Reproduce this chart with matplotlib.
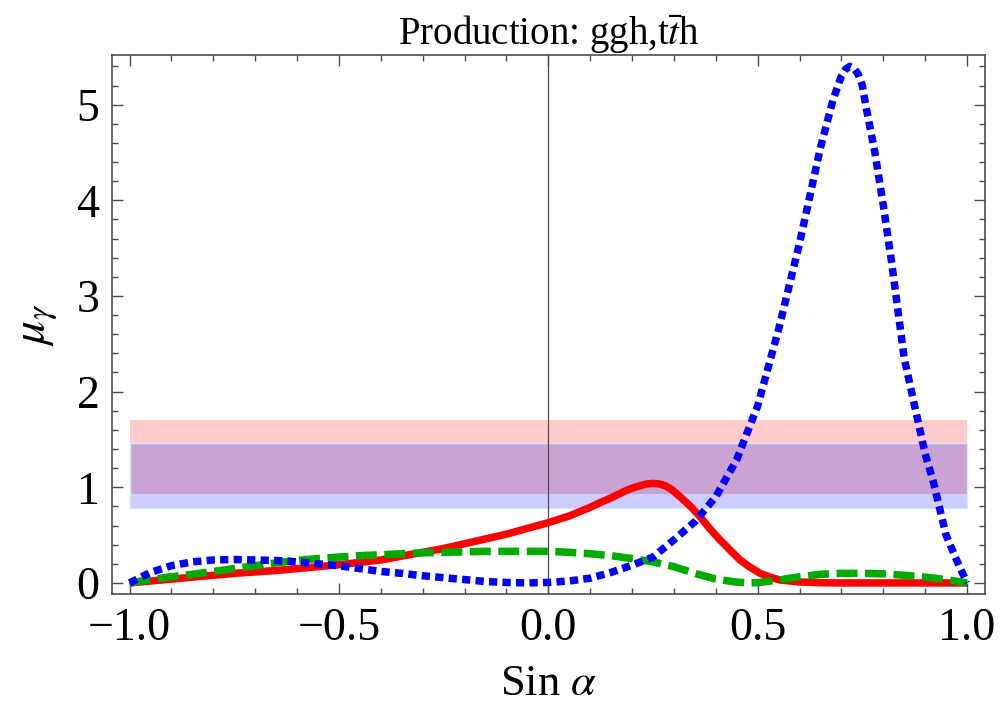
import numpy as np
import matplotlib
matplotlib.use("Agg")
import matplotlib.pyplot as plt
from matplotlib.ticker import MultipleLocator, FixedLocator

plt.rcParams['font.family'] = ['Liberation Serif', 'DejaVu Serif']
plt.rcParams['mathtext.fontset'] = 'stix'
plt.rcParams['axes.unicode_minus'] = True

# ---- data ----
red_x = [-1.0, -0.95, -0.9, -0.85, -0.8, -0.75, -0.7, -0.65, -0.6, -0.55, -0.5, -0.45, -0.4,
         -0.35, -0.3, -0.25, -0.2, -0.15, -0.1, -0.05, 0.0, 0.05, 0.1, 0.124, 0.15, 0.188, 0.21,
         0.235, 0.25, 0.265, 0.28, 0.295, 0.315, 0.34, 0.363, 0.385, 0.41, 0.435, 0.458, 0.48,
         0.506, 0.53, 0.554, 0.6, 0.65, 0.7, 0.8, 0.9, 1.0]
red_y = [0.0, 0.02, 0.04, 0.06, 0.08, 0.10, 0.115, 0.13, 0.15, 0.17, 0.19, 0.215, 0.24,
         0.28, 0.32, 0.36, 0.41, 0.46, 0.51, 0.57, 0.63, 0.70, 0.79, 0.84, 0.89, 0.97, 1.005,
         1.035, 1.04, 1.035, 1.015, 0.975, 0.90, 0.80, 0.69, 0.57, 0.45, 0.34, 0.24, 0.17,
         0.10, 0.06, 0.03, 0.01, 0.002, 0.0, 0.0, 0.0, 0.0]

green_x = [-1.0, -0.95, -0.9, -0.85, -0.8, -0.75, -0.7, -0.65, -0.6, -0.55, -0.5, -0.45, -0.4,
           -0.35, -0.3, -0.25, -0.2, -0.15, -0.1, -0.05, 0.0, 0.05, 0.1, 0.15, 0.2, 0.25, 0.3,
           0.35, 0.4, 0.45, 0.48, 0.5, 0.55, 0.6, 0.65, 0.7, 0.75, 0.8, 0.85, 0.9, 0.95, 1.0]
green_y = [0.0, 0.035, 0.065, 0.09, 0.12, 0.15, 0.18, 0.21, 0.235, 0.255, 0.27, 0.285, 0.295,
           0.305, 0.315, 0.32, 0.325, 0.33, 0.33, 0.33, 0.33, 0.32, 0.305, 0.285, 0.255, 0.22, 0.17,
           0.10, 0.04, 0.008, 0.0, 0.003, 0.03, 0.065, 0.09, 0.10, 0.10, 0.095, 0.08, 0.06, 0.035, 0.0]

blue_x = [-1.0, -0.95, -0.9, -0.85, -0.8, -0.75, -0.7, -0.65, -0.6, -0.55, -0.5, -0.45, -0.4,
          -0.35, -0.3, -0.25, -0.2, -0.15, -0.1, -0.05, 0.0, 0.05, 0.1, 0.15, 0.2, 0.25, 0.3,
          0.35, 0.4, 0.45, 0.5, 0.55, 0.6, 0.65, 0.68, 0.7, 0.71, 0.72, 0.73, 0.74, 0.75, 0.76,
          0.78, 0.8, 0.82, 0.85, 0.87, 0.9, 0.92, 0.95, 0.975, 1.0]
blue_y = [0.0, 0.11, 0.18, 0.22, 0.24, 0.245, 0.24, 0.235, 0.22, 0.20, 0.18, 0.15, 0.12,
          0.10, 0.075, 0.055, 0.035, 0.015, 0.005, 0.0, 0.005, 0.02, 0.05, 0.11, 0.185, 0.27, 0.45,
          0.64, 0.90, 1.29, 1.85, 2.65, 3.55, 4.55, 5.05, 5.3, 5.37, 5.40, 5.38, 5.32, 5.2, 4.95,
          4.5, 3.95, 3.35, 2.35, 1.95, 1.35, 1.05, 0.5, 0.24, 0.0]

band_red = [0.93, 1.705]
band_blue = [0.78, 1.468]
band_x = [-1.0, 1.0]

xticks = [-1.0, -0.5, 0.0, 0.5, 1.0]
xticklabels = ['\u22121.0', '\u22120.5', '0.0', '0.5', '1.0']
yticks = [0, 1, 2, 3, 4, 5]
yticklabels = ['0', '1', '2', '3', '4', '5']

# ---- figure ----
fig = plt.figure(figsize=(10, 7.13), dpi=100)
ax = fig.add_axes([0.112, 0.167, 0.873, 0.756])

# bands
ax.fill_between(band_x, band_red[0], band_red[1], color=(1.0, 0.8, 0.8), lw=0, zorder=1)
ax.fill_between(band_x, band_blue[0], band_blue[1], color=(0.8, 0.8, 1.0), lw=0, zorder=1)
ov_lo = max(band_red[0], band_blue[0])
ov_hi = min(band_red[1], band_blue[1])
ax.fill_between(band_x, ov_lo, ov_hi, color=(0.79, 0.64, 0.83), lw=0, zorder=1.1)
ax.plot([band_x[0], band_x[1], band_x[1], band_x[0], band_x[0]],
        [band_blue[0], band_blue[0], band_blue[1], band_blue[1], band_blue[0]],
        color=(0.85, 0.9, 1.0), lw=1.0, zorder=1.2)

# vertical axis line at 0
ax.axvline(0.0, color=(0.3, 0.3, 0.3), lw=0.9, zorder=1.5)

lw = 5.4
ax.plot(red_x, red_y, color=(1, 0, 0), lw=lw, solid_capstyle='butt',
        solid_joinstyle='round', zorder=3)
ax.plot(green_x, green_y, color=(0, 0.67, 0), lw=lw, linestyle=(0, (2.8, 1.0)),
        dash_capstyle='butt', zorder=4)
ax.plot(blue_x, blue_y, color=(0, 0, 1), lw=lw, linestyle=(0, (1.1, 0.7)),
        dash_capstyle='butt', zorder=5)

ax.set_xlim(-1.042, 1.043)
ax.set_ylim(-0.115, 5.52)

ax.xaxis.set_major_locator(FixedLocator(xticks))
ax.set_xticklabels(xticklabels)
ax.xaxis.set_minor_locator(MultipleLocator(0.1))
ax.yaxis.set_major_locator(FixedLocator(yticks))
ax.set_yticklabels(yticklabels)
ax.yaxis.set_minor_locator(MultipleLocator(0.2))

framec = (0.3, 0.3, 0.3)
for s in ax.spines.values():
    s.set_color(framec)
    s.set_linewidth(1.2)
ax.tick_params(which='both', direction='in', top=True, right=True, color=framec, width=1.0)
ax.tick_params(which='major', length=8, labelsize=33, pad=10)
ax.tick_params(axis='y', which='major', pad=9)
ax.tick_params(which='minor', length=4.5)

ax.set_xlabel(r'Sin $\alpha$', fontsize=32, labelpad=10)
ax.set_ylabel(r'$\mu_\gamma$', fontsize=34, labelpad=12)
ax.set_title(r'Production: ggh,t$\bar{\mathit{t}}$h', fontsize=28, pad=4)

fig.savefig('out.png', dpi=100)
